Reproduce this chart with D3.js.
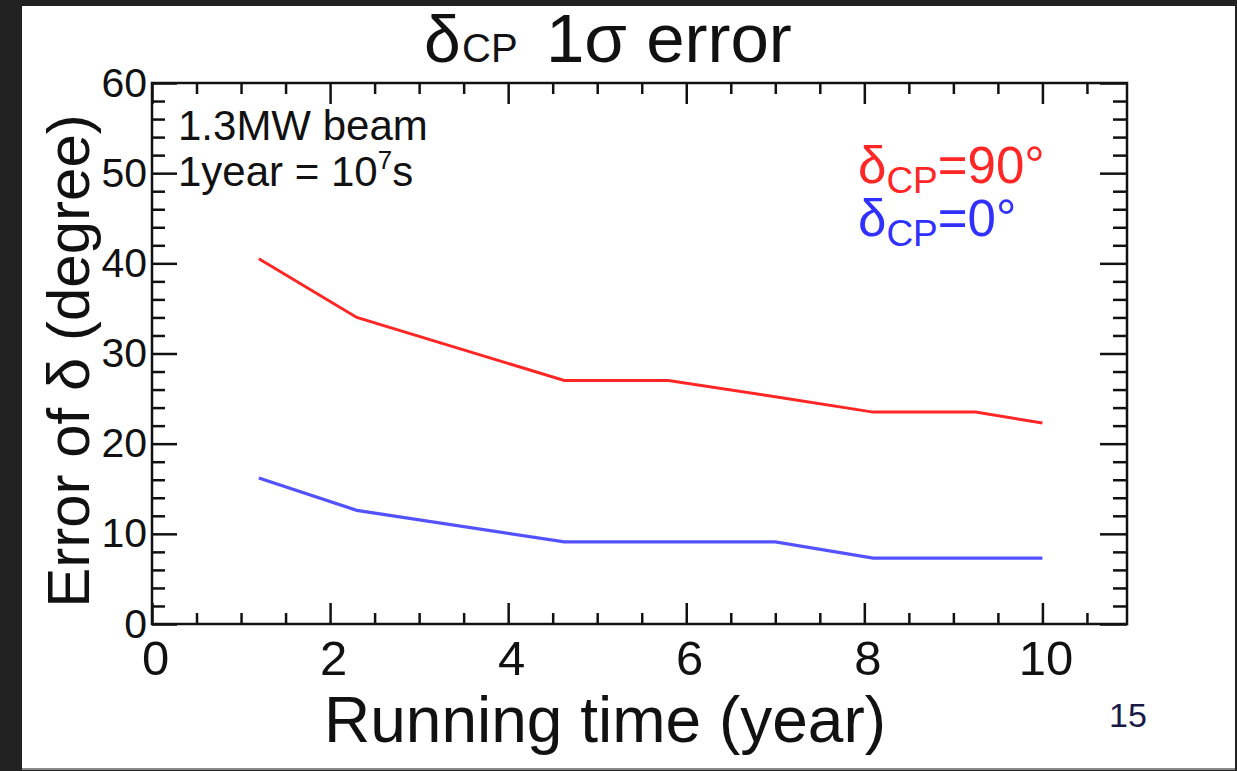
<!DOCTYPE html>
<html>
<head>
<meta charset="utf-8">
<script src="https://cdn.jsdelivr.net/npm/d3@7"></script>
<style>
    html, body {margin: 0; padding: 0; background: #222222;}
    svg {display: block;}
    text {font-family: "Liberation Sans", Arial, sans-serif; fill: #111;}
</style>
</head>
<body>
<div id="chart"></div>
<script>
// running time (year) and 1 sigma error of delta (degree)
const years = [1.2, 2.3, 4.63, 5.8, 7.0, 8.1, 9.25, 10.0]
const err90 = [40.5, 34.0, 27.0, 27.0, 25.2, 23.5, 23.5, 22.3]
const err0 = [16.2, 12.6, 9.1, 9.1, 9.1, 7.3, 7.3, 7.3]
const xMajorTicks = [0, 2, 4, 6, 8, 10]
const yMajorTicks = [0, 10, 20, 30, 40, 50, 60]
const xDomain = [0, 10.95]
const yDomain = [0, 60]

let width = 1237, height = 771
let margin = ({top: 83, right: 110, bottom: 147, left: 152})

const svg = d3.select('#chart').append('svg')
    .attr('width', width)
    .attr('height', height)

// white sheet on dark background
svg.append('rect')
    .attr('x', 22).attr('y', 6)
    .attr('width', 1213).attr('height', 762)
    .attr('fill', '#fff')
svg.append('line')
    .attr('x1', 22).attr('x2', 1235)
    .attr('y1', 769).attr('y2', 769)
    .attr('stroke', '#8a8a8a').attr('stroke-width', 2)

const xScale = d3.scaleLinear()
    .domain(xDomain)
    .range([margin.left, width - margin.right])
const yScale = d3.scaleLinear()
    .domain(yDomain)
    .range([height - margin.bottom, margin.top])

const xMinor = d3.range(0.5, 11, 0.5).filter(v => !xMajorTicks.includes(v))
const yMinor = d3.range(2, 60, 2).filter(v => !yMajorTicks.includes(v))

function tickAxis(g) {
    g.select('.domain').remove()
    g.selectAll('line').attr('stroke', '#111').attr('stroke-width', 2.5)
}

// bottom
svg.append('g')
    .attr('transform', `translate(0,${yScale(0)})`)
    .call(d3.axisBottom(xScale).tickValues(xMajorTicks).tickSizeInner(-21).tickSizeOuter(0).tickPadding(16))
    .call(tickAxis)
    .call(g => g.selectAll('text')
        .attr('font-size', 49).attr('dx', 3)
        .attr('font-family', '"Liberation Sans", Arial, sans-serif').attr('fill', '#111'))
svg.append('g')
    .attr('transform', `translate(0,${yScale(0)})`)
    .call(d3.axisBottom(xScale).tickValues(xMinor).tickSizeInner(-11).tickSizeOuter(0).tickFormat(''))
    .call(tickAxis)
// top
svg.append('g')
    .attr('transform', `translate(0,${yScale(60)})`)
    .call(d3.axisTop(xScale).tickValues(xMajorTicks).tickSizeInner(-21).tickSizeOuter(0).tickFormat(''))
    .call(tickAxis)
svg.append('g')
    .attr('transform', `translate(0,${yScale(60)})`)
    .call(d3.axisTop(xScale).tickValues(xMinor).tickSizeInner(-11).tickSizeOuter(0).tickFormat(''))
    .call(tickAxis)
// left
svg.append('g')
    .attr('transform', `translate(${xScale(0)},0)`)
    .call(d3.axisLeft(yScale).tickValues(yMajorTicks).tickSizeInner(-25).tickSizeOuter(0).tickPadding(5))
    .call(tickAxis)
    .call(g => g.selectAll('text').attr('font-size', 41).attr('font-family', '"Liberation Sans", Arial, sans-serif').attr('fill', '#111'))
svg.append('g')
    .attr('transform', `translate(${xScale(0)},0)`)
    .call(d3.axisLeft(yScale).tickValues(yMinor).tickSizeInner(-13).tickSizeOuter(0).tickFormat(''))
    .call(tickAxis)
// right
svg.append('g')
    .attr('transform', `translate(${xScale(xDomain[1])},0)`)
    .call(d3.axisRight(yScale).tickValues(yMajorTicks).tickSizeInner(-27).tickSizeOuter(0).tickFormat(''))
    .call(tickAxis)
svg.append('g')
    .attr('transform', `translate(${xScale(xDomain[1])},0)`)
    .call(d3.axisRight(yScale).tickValues(yMinor).tickSizeInner(-14).tickSizeOuter(0).tickFormat(''))
    .call(tickAxis)

// frame
svg.append('rect')
    .attr('x', xScale(0)).attr('y', yScale(60))
    .attr('width', xScale(xDomain[1]) - xScale(0))
    .attr('height', yScale(0) - yScale(60))
    .attr('fill', 'none').attr('stroke', '#111').attr('stroke-width', 2.5)

const line = d3.line()
    .x(d => xScale(d[0]))
    .y(d => yScale(d[1]))

svg.append('path')
    .datum(d3.zip(years, err90))
    .attr('fill', 'none')
    .attr('stroke', '#ff2626')
    .attr('stroke-width', 3)
    .attr('d', line)
svg.append('path')
    .datum(d3.zip(years, err0))
    .attr('fill', 'none')
    .attr('stroke', '#5252ff')
    .attr('stroke-width', 3.2)
    .attr('d', line)

// title
const title = svg.append('text')
    .attr('y', 62)
    .attr('font-family', 'Lato, "Open Sans", sans-serif')
title.append('tspan').attr('x', 424).attr('font-size', 66).text('δ')
title.append('tspan').attr('x', 462).attr('font-size', 40).text('CP')
title.append('tspan').attr('x', 546).attr('font-size', 69).text('1σ error')

// axis titles
svg.append('text')
    .attr('x', 605).attr('y', 742)
    .attr('text-anchor', 'middle')
    .attr('font-size', 64)
    .text('Running time (year)')
svg.append('text')
    .attr('transform', 'translate(89,361) rotate(-90)')
    .attr('text-anchor', 'middle')
    .attr('font-size', 60)
    .text('Error of δ (degree)')

// beam note
svg.append('text')
    .attr('x', 178).attr('y', 140)
    .attr('font-size', 42)
    .text('1.3MW beam')
const note = svg.append('text')
    .attr('x', 178).attr('y', 186)
    .attr('font-size', 42)
note.append('tspan').text('1year = 10')
note.append('tspan').attr('font-size', 26).attr('dy', -17).text('7')
note.append('tspan').attr('dy', 17).text('s')

// legend
const legend = [
    {label: '=90°', color: '#ff2626', y: 183},
    {label: '=0°', color: '#3030ff', y: 236},
]
legend.forEach(l => {
    const t = svg.append('text')
        .attr('x', 858).attr('y', l.y)
        .attr('font-size', 51)
        .style('fill', l.color)
    t.append('tspan').text('δ')
    t.append('tspan').attr('font-size', 37).attr('dy', 10).text('CP')
    t.append('tspan').attr('dy', -10).text(l.label)
})

// page number
svg.append('text')
    .attr('x', 1109).attr('y', 727)
    .attr('font-size', 34)
    .attr('font-family', 'Lato, sans-serif')
    .style('fill', '#1a1a4a')
    .text('15')
</script>
</body>
</html>
